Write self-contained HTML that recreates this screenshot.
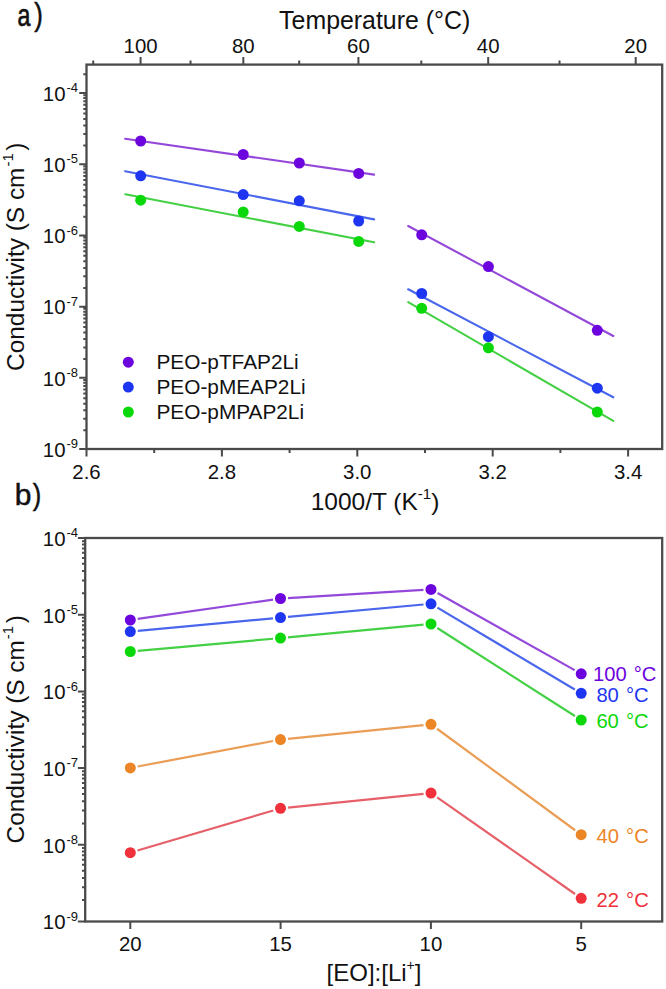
<!DOCTYPE html>
<html><head><meta charset="utf-8"><style>
html,body{margin:0;padding:0;background:#fff;}
svg{display:block;font-family:"Liberation Sans", sans-serif;}
</style></head><body>
<svg width="666" height="989" viewBox="0 0 666 989" fill="#111">
<rect x="86.5" y="64.6" width="575.7" height="384.4" fill="none" stroke="#4a4a4a" stroke-width="2.3"/>
<path d="M86.5,449.00H79.2 M86.5,430.26H83.3 M86.5,418.68H83.3 M86.5,410.27H83.3 M86.5,403.67H83.3 M86.5,398.23H83.3 M86.5,393.61H83.3 M86.5,389.59H83.3 M86.5,386.03H83.3 M86.5,382.84H83.3 M86.5,379.95H83.3 M86.5,377.82H79.2 M86.5,359.08H83.3 M86.5,347.50H83.3 M86.5,339.09H83.3 M86.5,332.49H83.3 M86.5,327.05H83.3 M86.5,322.43H83.3 M86.5,318.41H83.3 M86.5,314.85H83.3 M86.5,311.66H83.3 M86.5,308.77H83.3 M86.5,306.64H79.2 M86.5,287.90H83.3 M86.5,276.32H83.3 M86.5,267.91H83.3 M86.5,261.31H83.3 M86.5,255.87H83.3 M86.5,251.25H83.3 M86.5,247.23H83.3 M86.5,243.67H83.3 M86.5,240.48H83.3 M86.5,237.59H83.3 M86.5,235.46H79.2 M86.5,216.72H83.3 M86.5,205.14H83.3 M86.5,196.73H83.3 M86.5,190.13H83.3 M86.5,184.69H83.3 M86.5,180.07H83.3 M86.5,176.05H83.3 M86.5,172.49H83.3 M86.5,169.30H83.3 M86.5,166.41H83.3 M86.5,164.28H79.2 M86.5,145.54H83.3 M86.5,133.96H83.3 M86.5,125.55H83.3 M86.5,118.95H83.3 M86.5,113.51H83.3 M86.5,108.89H83.3 M86.5,104.87H83.3 M86.5,101.31H83.3 M86.5,98.12H83.3 M86.5,95.23H83.3 M86.5,93.10H79.2 M86.5,74.36H83.3 M86.50,449.0V456.5 M154.20,449.0V453.0 M221.90,449.0V456.5 M289.60,449.0V453.0 M357.30,449.0V456.5 M425.00,449.0V453.0 M492.70,449.0V456.5 M560.40,449.0V453.0 M628.10,449.0V456.5 M93.23,64.6V60.599999999999994 M140.58,64.6V57.099999999999994 M190.54,64.6V60.599999999999994 M243.33,64.6V57.099999999999994 M299.20,64.6V60.599999999999994 M358.42,64.6V57.099999999999994 M421.30,64.6V60.599999999999994 M488.20,64.6V57.099999999999994 M559.52,64.6V60.599999999999994 M635.70,64.6V57.099999999999994" stroke="#4a4a4a" stroke-width="2" fill="none"/>
<text x="65.5" y="456.80" text-anchor="end" font-size="20.4">10</text>
<text x="66.5" y="448.20" font-size="13">-9</text>
<text x="65.5" y="385.62" text-anchor="end" font-size="20.4">10</text>
<text x="66.5" y="377.02" font-size="13">-8</text>
<text x="65.5" y="314.44" text-anchor="end" font-size="20.4">10</text>
<text x="66.5" y="305.84" font-size="13">-7</text>
<text x="65.5" y="243.26" text-anchor="end" font-size="20.4">10</text>
<text x="66.5" y="234.66" font-size="13">-6</text>
<text x="65.5" y="172.08" text-anchor="end" font-size="20.4">10</text>
<text x="66.5" y="163.48" font-size="13">-5</text>
<text x="65.5" y="100.90" text-anchor="end" font-size="20.4">10</text>
<text x="66.5" y="92.30" font-size="13">-4</text>
<text x="86.50" y="478.8" text-anchor="middle" font-size="20.4">2.6</text>
<text x="221.90" y="478.8" text-anchor="middle" font-size="20.4">2.8</text>
<text x="357.30" y="478.8" text-anchor="middle" font-size="20.4">3.0</text>
<text x="492.70" y="478.8" text-anchor="middle" font-size="20.4">3.2</text>
<text x="628.10" y="478.8" text-anchor="middle" font-size="20.4">3.4</text>
<text x="140.58" y="53" text-anchor="middle" font-size="20.4">100</text>
<text x="243.33" y="53" text-anchor="middle" font-size="20.4">80</text>
<text x="358.42" y="53" text-anchor="middle" font-size="20.4">60</text>
<text x="488.20" y="53" text-anchor="middle" font-size="20.4">40</text>
<text x="635.70" y="53" text-anchor="middle" font-size="20.4">20</text>
<text x="374.7" y="29" text-anchor="middle" font-size="24.9">Temperature (°C)</text>
<text x="375" y="509.5" text-anchor="middle" font-size="24.5">1000/T (K<tspan font-size="15" dy="-10.8">-1</tspan><tspan dy="10.8">)</tspan></text>
<text transform="translate(24.3,256.7) rotate(-90)" text-anchor="middle" font-size="24.4">Conductivity (S cm<tspan font-size="15" dy="-11.3" dx="1">-1</tspan><tspan dy="11.3" dx="2.6">)</tspan></text>
<text transform="translate(17.5,25.5) scale(0.76,1)" font-size="30.5" stroke="#111" stroke-width="0.7">a</text>
<text transform="translate(34.3,24.8) scale(0.85,1)" font-size="30.5" stroke="#111" stroke-width="0.5">)</text>
<line x1="125.1" y1="138.7" x2="374.1" y2="174.6" stroke="#9448DA" stroke-width="2.1" stroke-linecap="round"/>
<line x1="408.2" y1="226" x2="613.3" y2="336" stroke="#9448DA" stroke-width="2.1" stroke-linecap="round"/>
<line x1="125.1" y1="171.2" x2="374.1" y2="219.4" stroke="#4A66EC" stroke-width="2.1" stroke-linecap="round"/>
<line x1="408.2" y1="289.3" x2="613.3" y2="397.3" stroke="#4A66EC" stroke-width="2.1" stroke-linecap="round"/>
<line x1="125.3" y1="194.3" x2="374.1" y2="242.3" stroke="#44D044" stroke-width="2.1" stroke-linecap="round"/>
<line x1="408.2" y1="302.2" x2="613.3" y2="420.9" stroke="#44D044" stroke-width="2.1" stroke-linecap="round"/>
<circle cx="140.7" cy="141.0" r="5.5" fill="#6C04DE"/>
<circle cx="243.2" cy="154.5" r="5.5" fill="#6C04DE"/>
<circle cx="299.3" cy="163.0" r="5.5" fill="#6C04DE"/>
<circle cx="358.7" cy="173.4" r="5.5" fill="#6C04DE"/>
<circle cx="421.7" cy="234.8" r="5.5" fill="#6C04DE"/>
<circle cx="488.4" cy="266.6" r="5.5" fill="#6C04DE"/>
<circle cx="597.3" cy="330.3" r="5.5" fill="#6C04DE"/>
<circle cx="140.7" cy="175.8" r="5.5" fill="#1E36F2"/>
<circle cx="243.2" cy="194.6" r="5.5" fill="#1E36F2"/>
<circle cx="299.3" cy="200.8" r="5.5" fill="#1E36F2"/>
<circle cx="358.7" cy="221.0" r="5.5" fill="#1E36F2"/>
<circle cx="421.7" cy="293.5" r="5.5" fill="#1E36F2"/>
<circle cx="488.4" cy="336.7" r="5.5" fill="#1E36F2"/>
<circle cx="597.3" cy="388.2" r="5.5" fill="#1E36F2"/>
<circle cx="140.7" cy="200.2" r="5.5" fill="#0AD80A"/>
<circle cx="243.2" cy="211.9" r="5.5" fill="#0AD80A"/>
<circle cx="299.3" cy="226.4" r="5.5" fill="#0AD80A"/>
<circle cx="358.7" cy="241.4" r="5.5" fill="#0AD80A"/>
<circle cx="421.7" cy="308.3" r="5.5" fill="#0AD80A"/>
<circle cx="488.4" cy="347.8" r="5.5" fill="#0AD80A"/>
<circle cx="597.3" cy="412.0" r="5.5" fill="#0AD80A"/>
<circle cx="128.3" cy="362.20" r="5.5" fill="#6C04DE"/>
<text x="156.5" y="368.80" font-size="20.8">PEO-pTFAP2Li</text>
<circle cx="128.3" cy="387.10" r="5.5" fill="#1E36F2"/>
<text x="156.5" y="393.70" font-size="20.8">PEO-pMEAP2Li</text>
<circle cx="128.3" cy="412.00" r="5.5" fill="#0AD80A"/>
<text x="156.5" y="418.60" font-size="20.8">PEO-pMPAP2Li</text>
<rect x="85.2" y="538.0" width="577.0" height="383.5" fill="none" stroke="#4a4a4a" stroke-width="2.3"/>
<path d="M85.2,921.50H77.9 M85.2,900.12H82.0 M85.2,887.20H82.0 M85.2,877.92H82.0 M85.2,870.67H82.0 M85.2,864.71H82.0 M85.2,859.67H82.0 M85.2,855.28H82.0 M85.2,851.41H82.0 M85.2,847.94H82.0 M85.2,844.80H77.9 M85.2,823.42H82.0 M85.2,810.50H82.0 M85.2,801.22H82.0 M85.2,793.97H82.0 M85.2,788.01H82.0 M85.2,782.97H82.0 M85.2,778.58H82.0 M85.2,774.71H82.0 M85.2,771.24H82.0 M85.2,768.10H77.9 M85.2,746.72H82.0 M85.2,733.80H82.0 M85.2,724.52H82.0 M85.2,717.27H82.0 M85.2,711.31H82.0 M85.2,706.27H82.0 M85.2,701.88H82.0 M85.2,698.01H82.0 M85.2,694.54H82.0 M85.2,691.40H77.9 M85.2,670.02H82.0 M85.2,657.10H82.0 M85.2,647.82H82.0 M85.2,640.57H82.0 M85.2,634.61H82.0 M85.2,629.57H82.0 M85.2,625.18H82.0 M85.2,621.31H82.0 M85.2,617.84H82.0 M85.2,614.70H77.9 M85.2,593.32H82.0 M85.2,580.40H82.0 M85.2,571.12H82.0 M85.2,563.87H82.0 M85.2,557.91H82.0 M85.2,552.87H82.0 M85.2,548.48H82.0 M85.2,544.61H82.0 M85.2,541.14H82.0 M85.2,538.00H77.9 M130.30,921.5V929.0 M280.60,921.5V929.0 M430.90,921.5V929.0 M581.20,921.5V929.0" stroke="#4a4a4a" stroke-width="2" fill="none"/>
<text x="65.5" y="929.30" text-anchor="end" font-size="20.4">10</text>
<text x="66.5" y="920.70" font-size="13">-9</text>
<text x="65.5" y="852.60" text-anchor="end" font-size="20.4">10</text>
<text x="66.5" y="844.00" font-size="13">-8</text>
<text x="65.5" y="775.90" text-anchor="end" font-size="20.4">10</text>
<text x="66.5" y="767.30" font-size="13">-7</text>
<text x="65.5" y="699.20" text-anchor="end" font-size="20.4">10</text>
<text x="66.5" y="690.60" font-size="13">-6</text>
<text x="65.5" y="622.50" text-anchor="end" font-size="20.4">10</text>
<text x="66.5" y="613.90" font-size="13">-5</text>
<text x="65.5" y="545.80" text-anchor="end" font-size="20.4">10</text>
<text x="66.5" y="537.20" font-size="13">-4</text>
<text x="130.30" y="950.5" text-anchor="middle" font-size="20.4">20</text>
<text x="280.60" y="950.5" text-anchor="middle" font-size="20.4">15</text>
<text x="430.90" y="950.5" text-anchor="middle" font-size="20.4">10</text>
<text x="581.20" y="950.5" text-anchor="middle" font-size="20.4">5</text>
<text x="374" y="981.3" text-anchor="middle" font-size="24">[EO]:[Li<tspan font-size="14" dy="-11.3">+</tspan><tspan dy="11.3">]</tspan></text>
<text transform="translate(24.3,729.3) rotate(-90)" text-anchor="middle" font-size="24.4">Conductivity (S cm<tspan font-size="15" dy="-11.3" dx="1">-1</tspan><tspan dy="11.3" dx="2.6">)</tspan></text>
<text x="14.8" y="505.4" font-size="30" stroke="#111" stroke-width="0.5">b</text>
<text transform="translate(32.7,505.2) scale(0.85,1)" font-size="30" stroke="#111" stroke-width="0.5">)</text>
<line x1="137.72" y1="618.94" x2="273.08" y2="599.56" stroke="#9448DA" stroke-width="2.2"/>
<line x1="287.99" y1="598.05" x2="423.51" y2="589.85" stroke="#9448DA" stroke-width="2.2"/>
<line x1="437.54" y1="593.07" x2="574.66" y2="670.13" stroke="#9448DA" stroke-width="2.2"/>
<circle cx="130.3" cy="620.0" r="5.5" fill="#6C04DE"/>
<circle cx="280.5" cy="598.5" r="5.5" fill="#6C04DE"/>
<circle cx="431.0" cy="589.4" r="5.5" fill="#6C04DE"/>
<circle cx="581.2" cy="673.8" r="5.5" fill="#6C04DE"/>
<text x="593.0" y="680.6" font-size="20.2" fill="#6C04DE">100 <tspan dx="1.4">°C</tspan></text>
<line x1="137.77" y1="630.90" x2="273.03" y2="618.30" stroke="#4A66EC" stroke-width="2.2"/>
<line x1="287.97" y1="616.92" x2="423.53" y2="604.48" stroke="#4A66EC" stroke-width="2.2"/>
<line x1="437.44" y1="607.64" x2="574.76" y2="689.46" stroke="#4A66EC" stroke-width="2.2"/>
<circle cx="130.3" cy="631.6" r="5.5" fill="#1E36F2"/>
<circle cx="280.5" cy="617.6" r="5.5" fill="#1E36F2"/>
<circle cx="431.0" cy="603.8" r="5.5" fill="#1E36F2"/>
<circle cx="581.2" cy="693.3" r="5.5" fill="#1E36F2"/>
<text x="596.4" y="701.6" font-size="20.2" fill="#1E36F2">80 <tspan dx="1.4">°C</tspan></text>
<line x1="137.77" y1="650.83" x2="273.03" y2="638.77" stroke="#44D044" stroke-width="2.2"/>
<line x1="287.97" y1="637.40" x2="423.53" y2="624.70" stroke="#44D044" stroke-width="2.2"/>
<line x1="437.32" y1="628.04" x2="574.88" y2="715.96" stroke="#44D044" stroke-width="2.2"/>
<circle cx="130.3" cy="651.5" r="5.5" fill="#0AD80A"/>
<circle cx="280.5" cy="638.1" r="5.5" fill="#0AD80A"/>
<circle cx="431.0" cy="624.0" r="5.5" fill="#0AD80A"/>
<circle cx="581.2" cy="720.0" r="5.5" fill="#0AD80A"/>
<text x="596.4" y="728.3" font-size="20.2" fill="#0AD80A">60 <tspan dx="1.4">°C</tspan></text>
<line x1="137.67" y1="766.51" x2="273.13" y2="740.99" stroke="#EA9D55" stroke-width="2.2"/>
<line x1="287.96" y1="738.84" x2="423.54" y2="725.06" stroke="#EA9D55" stroke-width="2.2"/>
<line x1="437.04" y1="728.74" x2="575.16" y2="830.26" stroke="#EA9D55" stroke-width="2.2"/>
<circle cx="130.3" cy="767.9" r="5.5" fill="#EC8526"/>
<circle cx="280.5" cy="739.6" r="5.5" fill="#EC8526"/>
<circle cx="431.0" cy="724.3" r="5.5" fill="#EC8526"/>
<circle cx="581.2" cy="834.7" r="5.5" fill="#EC8526"/>
<text x="596.6" y="843.0" font-size="20.2" fill="#EC8526">40 <tspan dx="1.4">°C</tspan></text>
<line x1="137.49" y1="850.57" x2="273.31" y2="810.43" stroke="#E6606A" stroke-width="2.2"/>
<line x1="287.96" y1="807.55" x2="423.54" y2="793.85" stroke="#E6606A" stroke-width="2.2"/>
<line x1="437.14" y1="797.40" x2="575.06" y2="894.00" stroke="#E6606A" stroke-width="2.2"/>
<circle cx="130.3" cy="852.7" r="5.5" fill="#F0303A"/>
<circle cx="280.5" cy="808.3" r="5.5" fill="#F0303A"/>
<circle cx="431.0" cy="793.1" r="5.5" fill="#F0303A"/>
<circle cx="581.2" cy="898.3" r="5.5" fill="#F0303A"/>
<text x="596.6" y="906.7" font-size="20.2" fill="#F0303A">22 <tspan dx="1.4">°C</tspan></text>
</svg>
</body></html>
